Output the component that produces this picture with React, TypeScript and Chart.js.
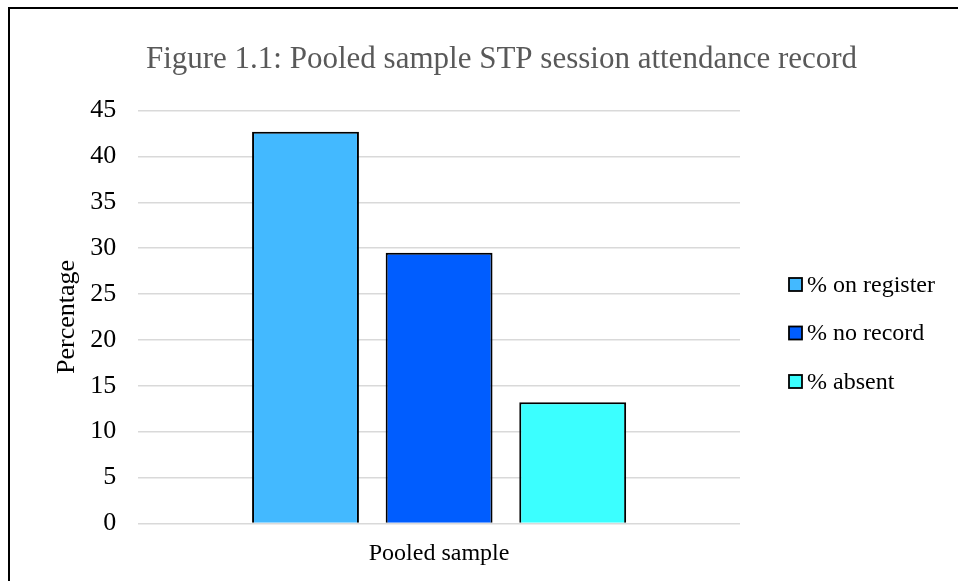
import React, { useEffect, useRef } from "react";
import { Chart, registerables } from "chart.js";

Chart.register(...registerables);

// Attendance shares for the pooled sample (percent)
const categories = ["Pooled sample"];
const seriesNames = ["% on register", "% no record", "% absent"];
const onRegister = [42.7];
const noRecord = [29.5];
const absent = [13.2];
const seriesColors = ["#43B9FF", "#005DFF", "#3BFFFF"];
const yMin = 0;
const yMax = 45;
const yStep = 5;

const chartTitle = "Figure 1.1: Pooled sample STP session attendance record";
const yAxisTitle = "Percentage";

const SERIF = '"Liberation Serif", "Times New Roman", serif';

// Legend drawn to the right of the plot, boxes with a dark outline
const sideLegend = {
  id: "sideLegend",
  afterDraw(chart: any) {
    const { ctx, chartArea } = chart;
    const x = chartArea.right + 49;
    const midY = (chartArea.top + chartArea.bottom) / 2 + 16;
    const gap = 48.5;
    const box = 13;
    ctx.save();
    chart.data.datasets.forEach((ds: any, i: number) => {
      const y = midY + (i - 1) * gap;
      ctx.fillStyle = ds.backgroundColor;
      ctx.fillRect(x, y - box / 2, box, box);
      ctx.strokeStyle = "#000";
      ctx.lineWidth = 1.8;
      ctx.strokeRect(x, y - box / 2, box, box);
      ctx.fillStyle = "#000";
      ctx.font = `24px ${SERIF}`;
      ctx.textBaseline = "middle";
      ctx.textAlign = "left";
      ctx.fillText(ds.label, x + box + 5, y + 1);
    });
    ctx.restore();
  },
};

export default function App() {
  const canvasRef = useRef<HTMLCanvasElement | null>(null);

  useEffect(() => {
    if (!canvasRef.current) return;
    const values = [onRegister, noRecord, absent];
    const chart = new Chart(canvasRef.current, {
      type: "bar",
      data: {
        labels: categories,
        datasets: seriesNames.map((name, i) => ({
          label: name,
          data: values[i],
          backgroundColor: seriesColors[i],
          borderColor: "#000",
          borderWidth: 2,
          categoryPercentage: 0.666,
          barPercentage: 0.8,
        })),
      },
      options: {
        animation: false,
        responsive: false,
        layout: { padding: { left: 19, right: 20, top: 0, bottom: 4.8 } },
        plugins: {
          legend: { display: false },
          tooltip: { enabled: false },
          title: {
            display: true,
            text: chartTitle,
            color: "#595959",
            font: { family: SERIF, size: 31, weight: "normal" },
            padding: { top: 32.6, bottom: 31.8 },
          },
        },
        scales: {
          x: {
            grid: { display: false, drawTicks: false },
            border: { display: false },
            ticks: {
              color: "#000",
              font: { family: SERIF, size: 24 },
              padding: 16,
            },
          },
          y: {
            min: yMin,
            max: yMax,
            grid: { color: "#D9D9D9", lineWidth: 1.5, drawTicks: false },
            border: { display: false },
            ticks: {
              stepSize: yStep,
              color: "#000",
              font: { family: SERIF, size: 26 },
              padding: 22,
            },
            title: {
              display: true,
              text: yAxisTitle,
              color: "#000",
              font: { family: SERIF, size: 26 },
              padding: { top: 23, bottom: -15 },
            },
          },
          // empty right-hand band that holds the legend
          legendSpace: {
            type: "linear",
            position: "right",
            display: true,
            grid: { display: false, drawTicks: false },
            border: { display: false },
            ticks: { display: false },
            afterFit: (scale: any) => {
              scale.width = 234;
            },
          },
        },
      },
      plugins: [sideLegend],
    });
    return () => chart.destroy();
  }, []);

  return (
    <div
      style={{
        position: "fixed",
        left: 8,
        top: 7,
        right: 0,
        bottom: 0,
        overflow: "hidden",
      }}
    >
      <div
        style={{
          width: 984,
          height: 580,
          border: "2px solid #000",
          background: "#fff",
        }}
      >
        <canvas ref={canvasRef} width={984} height={580} style={{ display: "block" }} />
      </div>
    </div>
  );
}
